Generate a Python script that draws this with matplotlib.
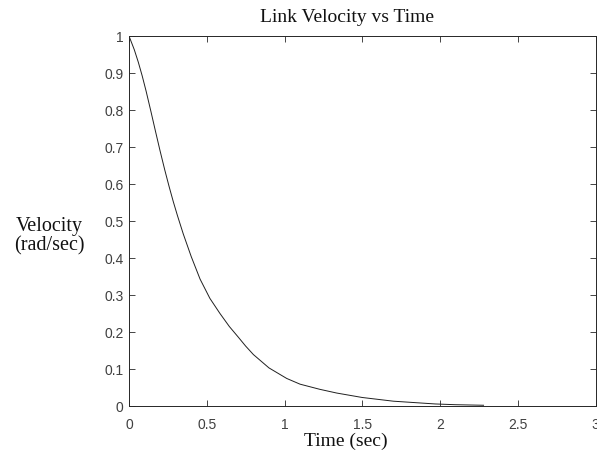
import matplotlib
matplotlib.use("Agg")
import matplotlib.pyplot as plt

# Data
time_s = [0.0, 0.034, 0.06, 0.085, 0.11, 0.141, 0.17, 0.199, 0.23, 0.258,
          0.285, 0.312, 0.349, 0.40, 0.457, 0.52, 0.585, 0.645, 0.703, 0.75,
          0.80, 0.90, 1.014, 1.10, 1.228, 1.336, 1.5, 1.7, 1.97, 2.1, 2.28]
velocity = [1.0, 0.963, 0.929, 0.892, 0.851, 0.796, 0.743, 0.691, 0.638, 0.593,
            0.552, 0.514, 0.465, 0.404, 0.343, 0.291, 0.250, 0.215, 0.186, 0.162,
            0.139, 0.103, 0.0745, 0.059, 0.045, 0.035, 0.023, 0.013, 0.0055, 0.0035, 0.002]
x_ticks = [0, 0.5, 1, 1.5, 2, 2.5, 3]
x_tick_labels = ["0", "0.5", "1", "1.5", "2", "2.5", "3"]
y_ticks = [0, 0.1, 0.2, 0.3, 0.4, 0.5, 0.6, 0.7, 0.8, 0.9, 1]
y_tick_labels = ["0", "0.1", "0.2", "0.3", "0.4", "0.5", "0.6", "0.7", "0.8", "0.9", "1"]

W, H = 597, 461
fig = plt.figure(figsize=(W / 100, H / 100), dpi=100)
fig.patch.set_facecolor("white")
ax = fig.add_axes([129 / W, 55 / H, 466.5 / W, 370 / H])

ax.plot(time_s, velocity, color="#202020", linewidth=0.7)

ax.set_xlim(0, 3)
ax.set_ylim(0, 1)
ax.set_xticks(x_ticks)
ax.set_xticklabels(x_tick_labels)
ax.set_yticks(y_ticks)
ax.set_yticklabels(y_tick_labels)

tick_col = "#404040"
ax.tick_params(direction="in", length=4, width=0.6, colors="#262626",
               labelcolor=tick_col, labelsize=10, top=True, right=True)
ax.tick_params(axis="x", pad=8.5)
ax.tick_params(axis="y", pad=4)
for lab in ax.get_xticklabels() + ax.get_yticklabels():
    lab.set_family("Liberation Sans")
for sp in ax.spines.values():
    sp.set_color("#262626")
    sp.set_linewidth(0.7)

fig.text(347 / W, 1 - 17 / H, "Link Velocity vs Time", family="Liberation Serif",
         fontsize=14, ha="center", va="center", color="#111111")
fig.text(346 / W, 1 - 441 / H, "Time (sec)", family="Liberation Serif",
         fontsize=14, ha="center", va="center", color="#111111")
fig.text(49 / W, 1 - 236 / H, "Velocity\n(rad/sec)", family="Liberation Serif",
         fontsize=14.5, ha="center", va="center", color="#111111", linespacing=1.05)

fig.savefig("out.png", dpi=100)
